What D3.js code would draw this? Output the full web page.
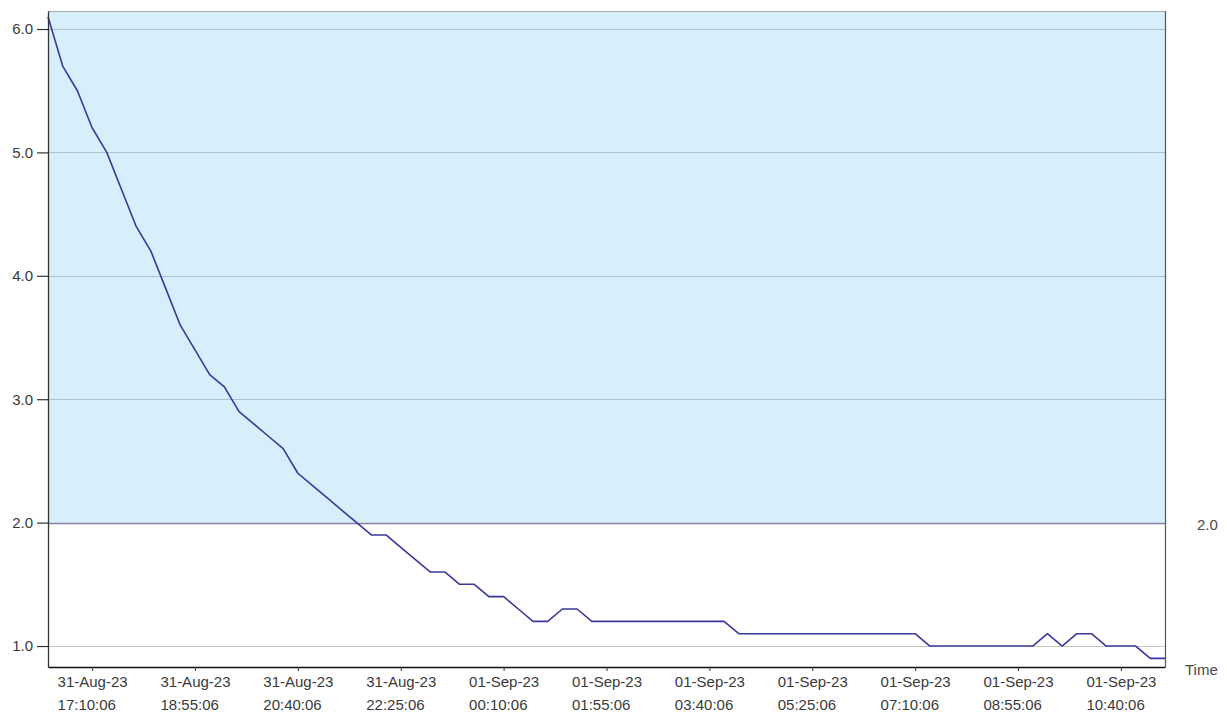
<!DOCTYPE html>
<html>
<head>
<meta charset="utf-8">
<script src="https://cdn.jsdelivr.net/npm/d3@7"></script>
<style>
  html, body { margin: 0; padding: 0; background: #ffffff; }
  svg { display: block; }
  text { font-family: Arial, "Liberation Sans", sans-serif; }
</style>
</head>
<body>
<svg id="chart" width="1227" height="713"></svg>
<script>
// Readings logged every 15 minutes from 31-Aug-23 16:25:06 to 01-Sep-23 11:25:06
const startTime = "2023-08-31T16:25:06";
const stepMinutes = 15;
const readings = [
  6.1, 5.7, 5.5, 5.2, 5.0, 4.7, 4.4, 4.2, 3.9, 3.6,
  3.4, 3.2, 3.1, 2.9, 2.8, 2.7, 2.6, 2.4, 2.3, 2.2,
  2.1, 2.0, 1.9, 1.9, 1.8, 1.7, 1.6, 1.6, 1.5, 1.5,
  1.4, 1.4, 1.3, 1.2, 1.2, 1.3, 1.3, 1.2, 1.2, 1.2,
  1.2, 1.2, 1.2, 1.2, 1.2, 1.2, 1.2, 1.1, 1.1, 1.1,
  1.1, 1.1, 1.1, 1.1, 1.1, 1.1, 1.1, 1.1, 1.1, 1.1,
  1.0, 1.0, 1.0, 1.0, 1.0, 1.0, 1.0, 1.0, 1.1, 1.0,
  1.1, 1.1, 1.0, 1.0, 1.0, 0.9, 0.9
];

// Axis ticks
const yTicks = [1.0, 2.0, 3.0, 4.0, 5.0, 6.0];
const xTickTimes = [
  "2023-08-31T17:10:06", "2023-08-31T18:55:06", "2023-08-31T20:40:06",
  "2023-08-31T22:25:06", "2023-09-01T00:10:06", "2023-09-01T01:55:06",
  "2023-09-01T03:40:06", "2023-09-01T05:25:06", "2023-09-01T07:10:06",
  "2023-09-01T08:55:06", "2023-09-01T10:40:06"
];

// Alarm threshold: the band above it is shaded
const threshold = 2.0;
const yDomain = [0.83, 6.146];

const parse = d3.isoParse;
const t0 = parse(startTime);
const data = readings.map((v, i) => ({ t: d3.timeMinute.offset(t0, i * stepMinutes), v }));

const svg = d3.select("#chart");
const plotLeft = 48, plotRight = 1165, plotTop = 11, plotBottom = 667;

const x = d3.scaleTime()
  .domain([data[0].t, data[data.length - 1].t])
  .range([plotLeft, plotRight]);
const y = d3.scaleLinear().domain(yDomain).range([plotBottom, plotTop]);

// Shaded band above the threshold
svg.append("rect")
  .attr("x", plotLeft).attr("y", plotTop)
  .attr("width", plotRight - plotLeft)
  .attr("height", y(threshold) - plotTop)
  .attr("fill", "#d7effb");

// Horizontal grid lines
svg.append("g").selectAll("line")
  .data(yTicks.filter(d => d !== threshold))
  .join("line")
  .attr("x1", plotLeft).attr("x2", plotRight)
  .attr("y1", d => Math.round(y(d)) + 0.5).attr("y2", d => Math.round(y(d)) + 0.5)
  .attr("stroke", d => d > threshold ? "#a9c3d3" : "#c6c6c6")
  .attr("stroke-width", 1);

// Threshold line
svg.append("line")
  .attr("x1", plotLeft).attr("x2", plotRight)
  .attr("y1", Math.round(y(threshold)) + 0.5).attr("y2", Math.round(y(threshold)) + 0.5)
  .attr("stroke", "#7f7fa6").attr("stroke-width", 1.3);

// Frame
svg.append("line").attr("x1", plotLeft).attr("x2", plotRight).attr("y1", plotTop + 0.5).attr("y2", plotTop + 0.5)
  .attr("stroke", "#a8a8a8").attr("stroke-width", 1);
svg.append("line").attr("x1", plotRight + 0.5).attr("x2", plotRight + 0.5).attr("y1", plotTop).attr("y2", plotBottom)
  .attr("stroke", "#555").attr("stroke-width", 1.2);

// Data line
const line = d3.line().x(d => x(d.t)).y(d => y(d.v));
svg.append("path")
  .datum(data)
  .attr("fill", "none")
  .attr("stroke", "#3b379c")
  .attr("stroke-width", 1.6)
  .attr("stroke-linejoin", "round")
  .attr("d", line);

// Y axis
const yAxis = d3.axisLeft(y)
  .tickValues(yTicks)
  .tickFormat(d3.format(".1f"))
  .tickSizeInner(11)
  .tickSizeOuter(0)
  .tickPadding(4);
const gy = svg.append("g").attr("transform", `translate(${plotLeft},0)`).call(yAxis);
gy.select(".domain").attr("stroke", "#333").attr("stroke-width", 1.3);
gy.selectAll(".tick line").attr("stroke", "#333").attr("stroke-width", 1.2);
gy.selectAll(".tick text").attr("font-size", 15).attr("fill", "#3a3a3a")
  .attr("font-family", "Arial, 'Liberation Sans', sans-serif");

// X axis
const fmtDate = d3.timeFormat("%d-%b-%y");
const fmtTime = d3.timeFormat("%H:%M:%S");
const xAxis = d3.axisBottom(x)
  .tickValues(xTickTimes.map(parse))
  .tickFormat("")
  .tickSizeInner(4)
  .tickSizeOuter(0);
const gx = svg.append("g").attr("transform", `translate(0,${plotBottom})`).call(xAxis);
gx.select(".domain").attr("stroke", "#111").attr("stroke-width", 1.6);
gx.selectAll(".tick line").attr("stroke", "#333");

// Two-line time labels, left aligned, first line centred on the tick
gx.selectAll(".tick").each(function (d) {
  const g = d3.select(this);
  const txt = g.append("text")
    .attr("font-size", 15)
    .attr("fill", "#3a3a3a")
    .attr("font-family", "Arial, 'Liberation Sans', sans-serif")
    .attr("text-anchor", "start");
  const l1 = txt.append("tspan").attr("y", 20).text(fmtDate(d));
  const w = l1.node().getComputedTextLength();
  l1.attr("x", -w / 2);
  txt.append("tspan").attr("x", -w / 2).attr("y", 43).text(fmtTime(d));
});

// Threshold value on the right
svg.append("text")
  .attr("x", 1197).attr("y", y(threshold) + 7)
  .attr("font-size", 15).attr("fill", "#4a4a4a")
  .text(d3.format(".1f")(threshold));

// Axis title
svg.append("text")
  .attr("x", 1185).attr("y", 675)
  .attr("font-size", 15).attr("fill", "#4a4a4a")
  .text("Time");
</script>
</body>
</html>
